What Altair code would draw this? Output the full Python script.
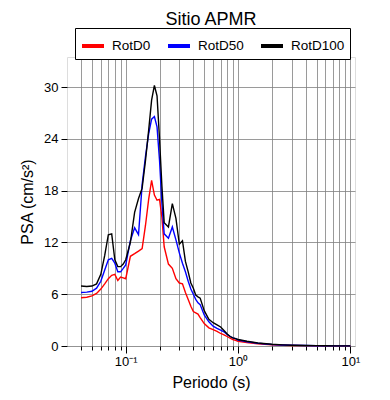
import altair as alt
import pandas as pd

periods = [0.04, 0.045, 0.05, 0.055, 0.06, 0.065, 0.07, 0.075, 0.08, 0.085, 0.09, 0.095,
           0.1, 0.11, 0.12, 0.13, 0.14, 0.15, 0.16, 0.17, 0.18, 0.19, 0.2, 0.21, 0.22,
           0.24, 0.26, 0.28, 0.3, 0.32, 0.34, 0.36, 0.38, 0.4, 0.42, 0.44, 0.46, 0.5,
           0.55, 0.6, 0.65, 0.7, 0.75, 0.8, 0.85, 0.9, 0.95, 1.0, 1.2, 1.5, 2.0, 2.5,
           3.0, 4.0, 5.0, 6.0, 7.5, 10.0]

rotd100 = [6.95, 6.9, 6.95, 7.2, 8.3, 10.5, 12.9, 13.0, 10.0, 9.2, 9.2, 9.5,
           10.0, 12.0, 15.5, 17.1, 18.3, 21.5, 25.0, 28.5, 30.2, 29.0, 24.0, 18.5, 14.3,
           13.8, 16.5, 14.8, 11.8, 12.2, 9.8, 8.6, 7.3, 6.7, 5.9, 5.7, 5.55, 4.1,
           3.1, 2.7, 2.45, 2.2, 1.8, 1.4, 1.1, 0.95, 0.85, 0.75, 0.55, 0.35, 0.2, 0.13,
           0.09, 0.06, 0.04, 0.03, 0.02, 0.01]

rotd50 = [6.2, 6.25, 6.35, 6.7, 7.5, 8.8, 10.0, 10.15, 9.6, 8.6, 8.6, 9.0,
          9.4, 12.2, 13.7, 12.9, 18.7, 22.0, 24.6, 26.3, 26.6, 25.4, 21.5, 16.5, 13.0,
          12.5, 13.8, 12.3, 10.8, 9.6, 8.6, 7.5, 6.6, 6.0, 5.4, 5.0, 4.8, 3.6,
          2.8, 2.3, 2.05, 1.85, 1.65, 1.35, 1.1, 0.95, 0.85, 0.7, 0.5, 0.32, 0.18, 0.12,
          0.08, 0.05, 0.035, 0.025, 0.02, 0.01]

rotd0 = [5.6, 5.65, 5.8, 6.1, 6.6, 7.2, 7.8, 8.2, 8.3, 7.6, 8.0, 7.9,
         7.8, 10.4, 10.7, 11.0, 11.3, 14.0, 17.0, 19.2, 17.5, 16.9, 17.0, 14.9, 11.5,
         9.5, 9.0, 7.8, 7.3, 7.2, 6.2, 5.4, 4.6, 4.0, 3.85, 3.7, 3.3, 2.6,
         2.1, 1.9, 1.7, 1.45, 1.3, 1.1, 0.9, 0.75, 0.65, 0.55, 0.4, 0.25, 0.14, 0.09,
         0.06, 0.04, 0.03, 0.02, 0.015, 0.01]

series_names = ["RotD0", "RotD50", "RotD100"]
series_colors = ["#ff0000", "#0000ff", "#000000"]
y_ticks = [0, 6, 12, 18, 24, 30]
x_ticks = [0.04, 0.05, 0.06, 0.07, 0.08, 0.09,
           0.1, 0.2, 0.3, 0.4, 0.5, 0.6, 0.7, 0.8, 0.9,
           1, 2, 3, 4, 5, 6, 7, 8, 9, 10]

rows = []
for name, vals in zip(series_names, [rotd0, rotd50, rotd100]):
    for t, v in zip(periods, vals):
        rows.append({"T": t, "PSA": v, "serie": name})
df = pd.DataFrame(rows)

FONT = "Liberation Sans"
xscale = alt.Scale(type="log", domain=[0.03, 11], nice=False)
yscale = alt.Scale(domain=[0, 33.5], nice=False, zero=False)

major_test = "datum.value == 0.1 || datum.value == 1 || datum.value == 10"
label_expr = ("datum.value == 0.1 ? '10⁻¹' : datum.value == 1 ? '10⁰' : "
              "datum.value == 10 ? '10¹' : ''")

lines = alt.Chart(df).mark_line(strokeWidth=1.4).encode(
    x=alt.X("T:Q", scale=xscale,
            axis=alt.Axis(values=x_ticks, labelExpr=label_expr, title="Periodo (s)",
                          grid=True, gridColor="#808080", gridWidth=0.8,
                          tickColor="black",
                          tickSize={"condition": {"test": major_test, "value": 7}, "value": 4},
                          labelFontSize=13, labelPadding=2, titleFontSize=16,
                          titleFontWeight="normal", titlePadding=6, domain=False,
                          labelFlush=False, labelOverlap=False)),
    y=alt.Y("PSA:Q", scale=yscale,
            axis=alt.Axis(values=y_ticks, title="PSA (cm/s²)", grid=True,
                          gridColor="#808080", gridWidth=0.8, tickColor="black",
                          tickSize=6, labelFontSize=13, labelPadding=3,
                          titleFontSize=16, titleFontWeight="normal", titlePadding=8,
                          domain=False)),
    color=alt.Color("serie:N",
                    scale=alt.Scale(domain=series_names, range=series_colors),
                    sort=series_names,
                    legend=alt.Legend(title=None, orient="none", legendX=8, legendY=-29,
                                      direction="horizontal", columns=3,
                                      symbolType="stroke", symbolStrokeWidth=4,
                                      symbolSize=484, labelFontSize=13.5, labelFont=FONT,
                                      labelOffset=6, columnPadding=9, padding=5,
                                      strokeColor="black", fillColor="white")),
    order=alt.Order("serie:N")
)

top_ticks = alt.Chart(df).mark_line(opacity=0).encode(
    x=alt.X("T:Q", scale=xscale,
            axis=alt.Axis(orient="top", values=x_ticks, labels=False, title=None,
                          grid=False, domain=False, tickColor="black",
                          tickSize={"condition": {"test": major_test, "value": 7}, "value": 4})),
    y=alt.Y("PSA:Q", scale=yscale),
    detail="serie:N"
)

chart = alt.layer(lines, top_ticks).resolve_axis(x="independent").properties(
    width=288, height=289,
    title=alt.TitleParams("Sitio APMR", fontSize=18, font=FONT, fontWeight="normal",
                          anchor="middle", color="black", offset=-1),
    autosize=alt.AutoSizeParams(type="none"),
    padding={"left": 59, "top": 49, "right": 20, "bottom": 46}
).configure_view(stroke="black", strokeWidth=2).configure(
    font=FONT
).configure_axis(labelFont=FONT, titleFont=FONT, labelColor="black", titleColor="black")

chart.save("out.html", embed_options={"renderer": "svg", "actions": False})
